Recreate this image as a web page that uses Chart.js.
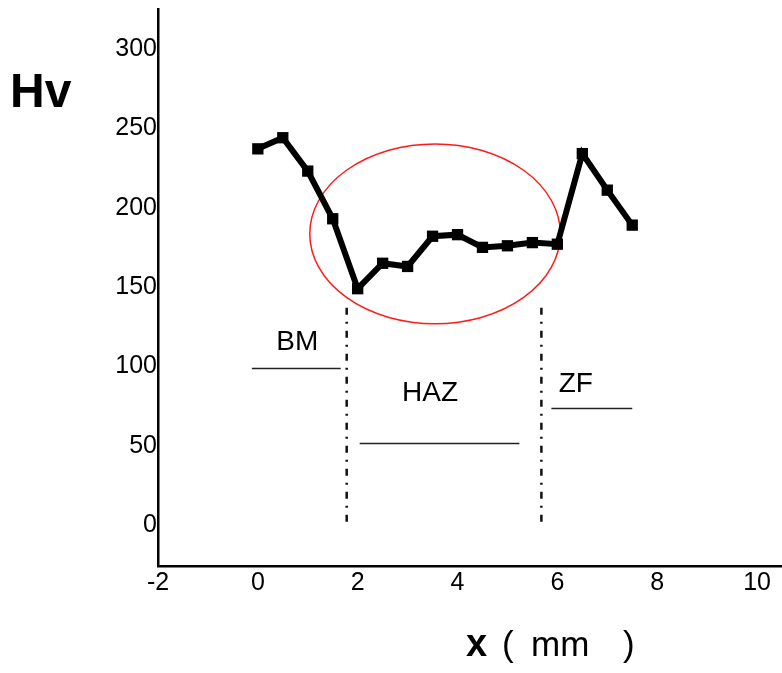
<!DOCTYPE html>
<html>
<head>
<meta charset="utf-8">
<script src="https://cdn.jsdelivr.net/npm/chart.js@4/dist/chart.umd.min.js"></script>
<style>
  html, body { margin: 0; padding: 0; background: #fff; }
  #wrap { width: 782px; height: 673px; position: relative; }
</style>
</head>
<body>
<div id="wrap"><canvas id="c" width="782" height="673"></canvas></div>
<script>
// ---- data ----
const xPositions = [0, 0.5, 1, 1.5, 2, 2.5, 3, 3.5, 4, 4.5, 5, 5.5, 6, 6.5, 7, 7.5];
const hvValues   = [237, 244, 223, 193, 149, 165, 163, 182, 183, 175, 176, 178, 177, 234, 211, 189];
const xTickValues = [-2, 0, 2, 4, 6, 8, 10];
const yTickValues = [0, 50, 100, 150, 200, 250, 300];
const zoneLabels = ['BM', 'HAZ', 'ZF'];
const zoneLabelX = [0.79, 3.45, 6.37];
const zoneLabelY = [110.7, 78.6, 84.3];
const zoneLineX1 = [-0.12, 2.04, 5.88];
const zoneLineX2 = [1.66, 5.24, 7.5];
const zoneLineY  = [99.4, 52.2, 74.2];
const boundaryX = [1.78, 5.68];
const boundaryYTop = [137, 137];
const boundaryYBottom = [0, 0];
const ellipseCenter = [3.55, 183.5];
const ellipseRadius = [2.51, 56.6];
const yTitle = 'Hv';
const xTitleParts = ['x', '(', 'mm', ')'];

const FONT = '"Liberation Sans", Arial, sans-serif';

const decorPlugin = {
  id: 'decor',
  beforeDatasetsDraw(chart) {
    const ctx = chart.ctx;
    const xs = chart.scales.x, ys = chart.scales.y;
    ctx.save();
    // ellipse
    const cx = xs.getPixelForValue(ellipseCenter[0]);
    const cy = ys.getPixelForValue(ellipseCenter[1]);
    const rx = Math.abs(xs.getPixelForValue(ellipseCenter[0] + ellipseRadius[0]) - cx);
    const ry = Math.abs(ys.getPixelForValue(ellipseCenter[1] + ellipseRadius[1]) - cy);
    ctx.strokeStyle = '#ff1a1a';
    ctx.lineWidth = 1.5;
    ctx.beginPath();
    ctx.ellipse(cx, cy, rx, ry, 0, 0, Math.PI * 2);
    ctx.stroke();
    // boundaries (dash-dot)
    ctx.strokeStyle = '#111';
    ctx.lineWidth = 2.5;
    ctx.setLineDash([7, 7, 2, 7]);
    for (let i = 0; i < boundaryX.length; i++) {
      const px = xs.getPixelForValue(boundaryX[i]);
      ctx.beginPath();
      ctx.moveTo(px, ys.getPixelForValue(boundaryYTop[i]));
      ctx.lineTo(px, ys.getPixelForValue(boundaryYBottom[i]));
      ctx.stroke();
    }
    ctx.setLineDash([]);
    // zone lines and labels
    ctx.lineWidth = 1.3;
    ctx.strokeStyle = '#222';
    ctx.fillStyle = '#000';
    ctx.font = '28px ' + FONT;
    ctx.textAlign = 'center';
    ctx.textBaseline = 'alphabetic';
    for (let i = 0; i < zoneLabels.length; i++) {
      const y = Math.round(ys.getPixelForValue(zoneLineY[i])) + 0.5;
      ctx.beginPath();
      ctx.moveTo(xs.getPixelForValue(zoneLineX1[i]), y);
      ctx.lineTo(xs.getPixelForValue(zoneLineX2[i]), y);
      ctx.stroke();
      ctx.fillText(zoneLabels[i], xs.getPixelForValue(zoneLabelX[i]), ys.getPixelForValue(zoneLabelY[i]));
    }
    ctx.restore();
  },
  afterDraw(chart) {
    const ctx = chart.ctx;
    ctx.save();
    ctx.fillStyle = '#000';
    ctx.textAlign = 'left';
    ctx.textBaseline = 'alphabetic';
    ctx.font = 'bold 48px ' + FONT;
    ctx.fillText(yTitle, 10, 107);
    // x title
    const base = 656;
    ctx.font = 'bold 38px ' + FONT;
    ctx.fillText(xTitleParts[0], 466, base);
    ctx.font = '35px ' + FONT;
    ctx.fillText(xTitleParts[1], 502, base);
    ctx.fillText(xTitleParts[2], 531, base);
    ctx.fillText(xTitleParts[3], 623, base);
    ctx.restore();
  }
};

new Chart(document.getElementById('c'), {
  type: 'scatter',
  data: {
    datasets: [{
      data: xPositions.map((x, i) => ({ x: x, y: hvValues[i] })),
      showLine: true,
      borderColor: '#000',
      backgroundColor: '#000',
      borderWidth: 6,
      pointStyle: 'rect',
      pointRadius: 8,
      pointBorderWidth: 0,
      tension: 0
    }]
  },
  options: {
    responsive: false,
    animation: false,
    devicePixelRatio: 1,
    layout: { autoPadding: false, padding: { top: 9, right: 0, left: 0, bottom: 0 } },
    plugins: { legend: { display: false }, tooltip: { enabled: false } },
    scales: {
      x: {
        type: 'linear',
        min: -2, max: 10.5,
        grid: { display: false, drawTicks: false },
        border: { display: true, color: '#000', width: 2.5 },
        ticks: {
          color: '#000', padding: 2, autoSkip: false, maxRotation: 0,
          font: { family: FONT, size: 25 },
          callback: v => String(v)
        },
        afterBuildTicks: s => { s.ticks = xTickValues.map(v => ({ value: v })); },
        afterFit: s => { s.height = 673 - 566; s.paddingLeft = 0; s.paddingRight = 0; }
      },
      y: {
        type: 'linear',
        min: -25.5, max: 325,
        grid: { display: false, drawTicks: false },
        border: { display: true, color: '#000', width: 2.5 },
        ticks: {
          color: '#000', padding: 1,
          font: { family: FONT, size: 25 },
          callback: v => String(v)
        },
        afterBuildTicks: s => { s.ticks = yTickValues.map(v => ({ value: v })); },
        afterFit: s => { s.width = 158; s.paddingTop = 0; s.paddingBottom = 0; }
      }
    }
  },
  plugins: [decorPlugin]
});
</script>
</body>
</html>
